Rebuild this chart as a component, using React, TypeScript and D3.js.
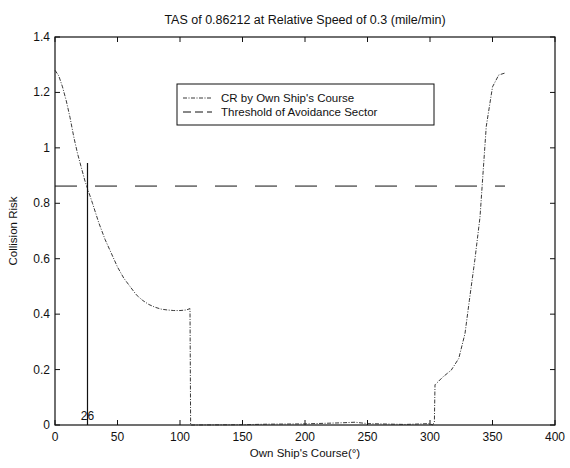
import * as React from 'react';
import * as d3 from 'd3';

// own ship's course (deg) vs collision risk
const courseDeg = [0, 3, 6, 9, 12, 15, 18, 21, 24, 27, 30, 35, 40, 45, 50, 55, 60, 65, 70, 75, 80, 85, 90, 95, 100, 105, 108, 108.5,
  109, 150, 170, 200, 230, 240, 250, 280, 300, 302, 303.5, 304, 310, 317, 323, 328, 331.5, 336, 340, 345, 350, 355, 360];
const collisionRisk = [1.28, 1.26, 1.22, 1.17, 1.11, 1.04, 0.98, 0.93, 0.88, 0.84, 0.8, 0.73, 0.67, 0.62, 0.57, 0.53, 0.5, 0.47, 0.45, 0.435, 0.425, 0.418, 0.415, 0.413, 0.413, 0.415, 0.42, 0,
  0, 0.001, 0.003, 0.004, 0.008, 0.01, 0.005, 0.002, 0.005, 0, 0.01, 0.145, 0.172, 0.198, 0.24, 0.33, 0.45, 0.6, 0.75, 1.077, 1.22, 1.263, 1.27];

const threshold = 0.86212;
const thresholdSpan = [0, 360];
const markCourse = 26;
const markTop = 0.945;

const xTicks = [0, 50, 100, 150, 200, 250, 300, 350, 400];
const yTicks = [0, 0.2, 0.4, 0.6, 0.8, 1, 1.2, 1.4];

const legendLabels = ["CR by Own Ship's Course", 'Threshold of Avoidance Sector'];

const W = 570, H = 468;
const m = {left: 55, right: 15, top: 37, bottom: 43};
const font = '"Liberation Sans", Arial, sans-serif';

export default function App() {
  const x = d3.scaleLinear().domain([0, 400]).range([m.left, W - m.right]);
  const y = d3.scaleLinear().domain([0, 1.4]).range([H - m.bottom, m.top]);

  const pts: [number, number][] = courseDeg.map((c, i) => [c, collisionRisk[i]]);
  const line = d3.line<[number, number]>().x(d => x(d[0])).y(d => y(d[1]));

  const x0 = x(0), x1 = x(400), y0 = y(0), y1 = y(1.4);
  const tl = 5;

  return (
    <svg width={W} height={H} style={{position: 'absolute', left: 0, top: 0, background: '#fff'}} fontFamily={font}>
      <text x={(x0 + x1) / 2} y={24} textAnchor="middle" fontSize={12.5} fill="#111">
        TAS of 0.86212 at Relative Speed of 0.3 (mile/min)
      </text>

      {/* ticks on all four sides, pointing in */}
      {xTicks.map(t => (
        <g key={'x' + t}>
          <line x1={x(t)} x2={x(t)} y1={y0} y2={y0 - tl} stroke="#111" />
          <line x1={x(t)} x2={x(t)} y1={y1} y2={y1 + tl} stroke="#111" />
          <text x={x(t)} y={y0 + 16} textAnchor="middle" fontSize={12} fill="#111">{t}</text>
        </g>
      ))}
      {yTicks.map(t => (
        <g key={'y' + t}>
          <line x1={x0} x2={x0 + tl} y1={y(t)} y2={y(t)} stroke="#111" />
          <line x1={x1} x2={x1 - tl} y1={y(t)} y2={y(t)} stroke="#111" />
          <text x={x0 - 5} y={y(t) + 4} textAnchor="end" fontSize={12} fill="#111">{String(t)}</text>
        </g>
      ))}

      <rect x={x0} y={y1} width={x1 - x0} height={y0 - y1} fill="none" stroke="#111" strokeWidth={1.2} />

      <text x={(x0 + x1) / 2} y={H - 11} textAnchor="middle" fontSize={11.5} fill="#111">Own Ship's Course(°)</text>
      <text transform={`translate(17,${(y0 + y1) / 2}) rotate(-90)`} textAnchor="middle" fontSize={11.5} fill="#111">Collision Risk</text>

      <line x1={x(thresholdSpan[0])} x2={x(thresholdSpan[1])} y1={y(threshold)} y2={y(threshold)}
        stroke="#111" strokeWidth={1} strokeDasharray="22,18" />

      <path d={line(pts) ?? ''} fill="none" stroke="#222" strokeWidth={0.9} strokeDasharray="4,1.5,1,1.5" />

      <line x1={x(markCourse)} x2={x(markCourse)} y1={y(0)} y2={y(markTop)} stroke="#111" strokeWidth={1.2} />
      <text x={x(markCourse)} y={y0 - 5} textAnchor="middle" fontSize={12} fill="#111">{markCourse}</text>

      <g>
        <rect x={177} y={84} width={257} height={41} fill="#fff" stroke="#111" strokeWidth={1} />
        <line x1={183} x2={212} y1={98} y2={98} stroke="#222" strokeWidth={0.9} strokeDasharray="4,1.5,1,1.5" />
        <line x1={183} x2={212} y1={112} y2={112} stroke="#111" strokeWidth={1} strokeDasharray="8,4" />
        {legendLabels.map((l, i) => (
          <text key={l} x={221} y={102 + i * 14} fontSize={11.5} fill="#111">{l}</text>
        ))}
      </g>
    </svg>
  );
}
